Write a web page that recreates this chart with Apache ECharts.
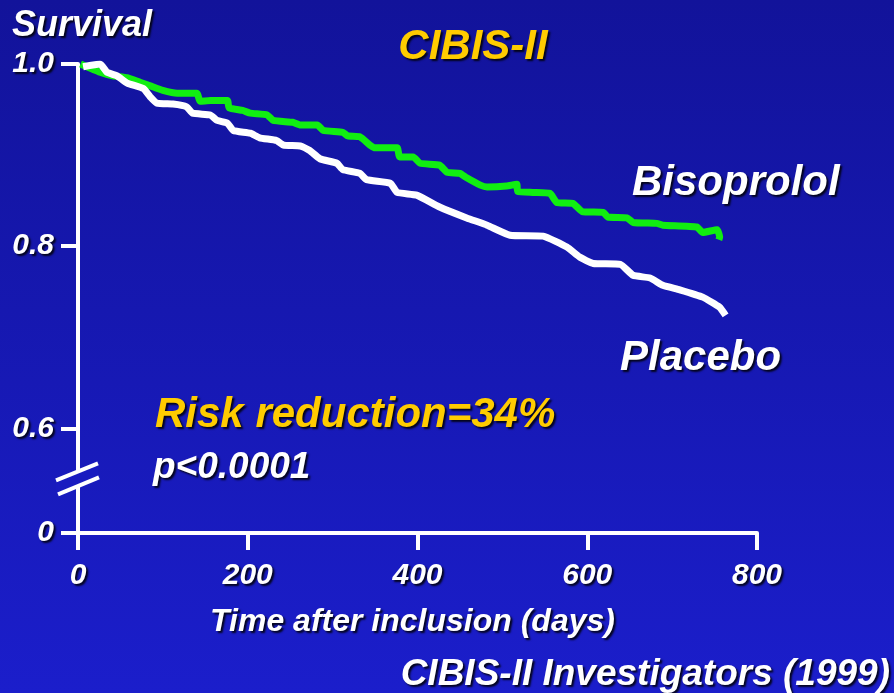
<!DOCTYPE html>
<html>
<head>
<meta charset="utf-8">
<script src="https://cdn.jsdelivr.net/npm/echarts@6/dist/echarts.min.js"></script>
<style>
html,body{margin:0;padding:0;}
#c{width:894px;height:693px;}
</style>
</head>
<body>
<div id="c"></div>
<script>
// ---- data ----
const bisoprololDays = [3,26,41,58,73,85,100,117,140,144,156,176,178,194,203,223,230,253,262,282,289,312,318,332,344,350,376,379,395,403,426,435,450,458,474,482,505,517,518,536,556,564,583,594,619,624,647,654,682,689,729,736,753,756,755];
const bisoprololSurv = [1.0,0.991,0.987,0.985,0.980,0.976,0.971,0.968,0.968,0.959,0.960,0.960,0.952,0.949,0.946,0.944,0.938,0.936,0.933,0.933,0.927,0.925,0.921,0.920,0.911,0.908,0.908,0.898,0.898,0.891,0.889,0.881,0.880,0.875,0.867,0.865,0.866,0.868,0.860,0.859,0.858,0.848,0.847,0.838,0.837,0.832,0.831,0.826,0.825,0.823,0.821,0.815,0.818,0.810,0.807];
const placeboDays = [6,26,34,46,58,77,85,93,112,128,135,156,164,176,183,203,214,234,242,262,273,285,305,312,332,340,368,376,399,426,458,482,509,548,576,591,607,639,654,674,689,709,736,756,763];
const placeboSurv = [0.997,1.0,0.991,0.987,0.979,0.973,0.964,0.957,0.956,0.953,0.946,0.944,0.938,0.935,0.927,0.924,0.919,0.916,0.911,0.910,0.905,0.896,0.891,0.884,0.880,0.873,0.869,0.859,0.856,0.843,0.831,0.823,0.812,0.811,0.799,0.788,0.781,0.780,0.768,0.765,0.757,0.752,0.744,0.733,0.724];
const xTicks = [0,200,400,600,800];
const yTickValues = [0.485,0.6,0.8,1.0];
const yTickLabels = ['0','0.6','0.8','1.0'];
const breakValue = 0.545;

const FONT = '"Liberation Sans", Arial, sans-serif';
const shadow = {textShadowColor:'rgba(0,0,0,0.85)', textShadowOffsetX:2, textShadowOffsetY:2, textShadowBlur:2};

const chart = echarts.init(document.getElementById('c'));
function zip(a,b){return a.map((v,i)=>[v,b[i]]);}

chart.setOption({
  animation:false,
  backgroundColor:{type:'linear',x:0,y:0,x2:0,y2:1,colorStops:[{offset:0,color:'#12139a'},{offset:1,color:'#1b1ecb'}]},
  grid:{left:78,right:137,top:64,bottom:160,containLabel:false},
  xAxis:{
    type:'value',min:0,max:800,interval:200,
    axisLine:{lineStyle:{color:'#fff',width:4}},
    axisTick:{show:true,inside:false,length:17,lineStyle:{color:'#fff',width:4}},
    splitLine:{show:false},
    axisLabel:Object.assign({color:'#fff',fontFamily:FONT,fontSize:30,fontWeight:'bold',fontStyle:'italic',margin:28},shadow),
    name:'Time after inclusion (days)',nameLocation:'middle',nameGap:73,
    nameTextStyle:Object.assign({color:'#fff',fontFamily:FONT,fontSize:32,fontWeight:'bold',fontStyle:'italic',padding:[0,10,0,0]},shadow)
  },
  yAxis:{
    type:'value',min:0.485,max:1.0,
    axisLine:{show:true,lineStyle:{color:'#fff',width:4}},
    axisTick:{show:true,inside:false,length:17,lineStyle:{color:'#fff',width:4},customValues:yTickValues},
    splitLine:{show:false},
    axisLabel:Object.assign({color:'#fff',fontFamily:FONT,fontSize:30,fontWeight:'bold',fontStyle:'italic',margin:24,
      customValues:yTickValues,
      formatter:function(v){const i=yTickValues.findIndex(t=>Math.abs(t-v)<1e-6);return i>=0?yTickLabels[i]:'';}},shadow)
  },
  series:[
    {name:'Bisoprolol',type:'line',data:zip(bisoprololDays,bisoprololSurv),showSymbol:false,smooth:0.15,
     lineStyle:{color:'#11ee11',width:7,join:'round'},z:3},
    {name:'Placebo',type:'line',data:zip(placeboDays,placeboSurv),showSymbol:false,smooth:0.15,
     lineStyle:{color:'#ffffff',width:7,join:'round'},z:4}
  ]
});

const p = chart.convertToPixel({gridIndex:0},[0,breakValue]);
const bx = p[0], by = p[1];
function txt(o){return {type:'text',z:10,style:Object.assign({fontFamily:FONT,fontWeight:'bold',fontStyle:'italic'},shadow,o)};}
chart.setOption({
  graphic:[
    {type:'polygon',z:9,shape:{points:[[bx-22,by+2],[bx+20,by-15],[bx+20,by-1],[bx-22,by+16]]},style:{fill:'#191bc0'}},
    {type:'line',z:10,shape:{x1:bx-22,y1:by+2,x2:bx+20,y2:by-15},style:{stroke:'#fff',lineWidth:4}},
    {type:'line',z:10,shape:{x1:bx-20,y1:by+16,x2:bx+21,y2:by-1},style:{stroke:'#fff',lineWidth:4}},
    txt({text:'Survival',x:12,y:26,fontSize:36,fill:'#fff',verticalAlign:'middle'}),
    txt({text:'CIBIS-II',x:473,y:47,fontSize:42,fill:'#ffcc00',align:'center',verticalAlign:'middle'}),
    txt({text:'Bisoprolol',x:632,y:183,fontSize:42,fill:'#fff',verticalAlign:'middle'}),
    txt({text:'Placebo',x:620,y:358,fontSize:42,fill:'#fff',verticalAlign:'middle'}),
    txt({text:'Risk reduction=34%',x:155,y:415,fontSize:42,fill:'#ffcc00',verticalAlign:'middle'}),
    txt({text:'p<0.0001',x:153,y:468,fontSize:37,fill:'#fff',verticalAlign:'middle'}),
    txt({text:'CIBIS-II Investigators (1999)',x:890,y:675,fontSize:37,fill:'#fff',align:'right',verticalAlign:'middle'})
  ]
});
</script>
</body>
</html>
